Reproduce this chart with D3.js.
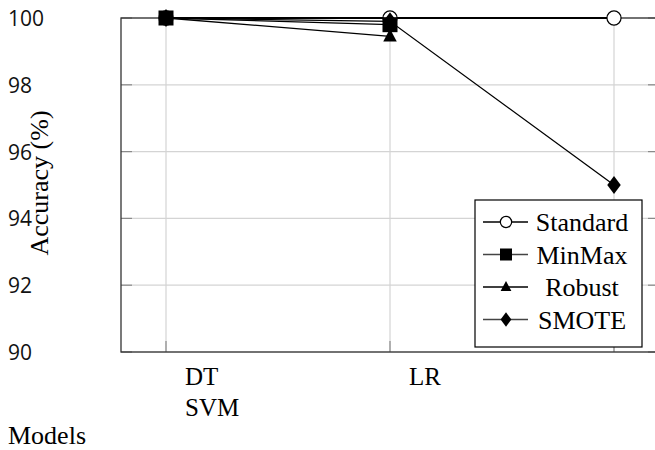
<!DOCTYPE html>
<html>
<head>
<meta charset="utf-8">
<script src="https://cdn.jsdelivr.net/npm/d3@7"></script>
<style>
  html, body { margin: 0; padding: 0; background: #fff; }
  svg { display: block; }
</style>
</head>
<body>
<svg id="chart"></svg>
<script>
// Data
const models = ['DT', 'LR', 'SVM'];
const xTickLines = [['DT', 'SVM'], ['LR'], []];
const yTicks = [90, 92, 94, 96, 98, 100];

const standardAcc = [100, 100, 100];
const minmaxAcc = [100, 99.8, null];
const robustAcc = [100, 99.45, null];
const smoteAcc = [100, 99.9, 95];

const seriesNames = ['Standard', 'MinMax', 'Robust', 'SMOTE'];
const seriesValues = [standardAcc, minmaxAcc, robustAcc, smoteAcc];
const seriesMarkers = ['circle', 'square', 'triangle', 'diamond'];

const SERIF = 'Times New Roman';
const SANS = 'Open Sans';

const W = 655, H = 450;
const margin = { top: 18, right: -4, bottom: 98, left: 121 };
const width = W - margin.left - margin.right;
const height = H - margin.top - margin.bottom;

const svg = d3.select('#chart')
  .attr('width', W)
  .attr('height', H);

const g = svg.append('g')
  .attr('transform', `translate(${margin.left},${margin.top})`);

// Scales
const x = d3.scalePoint()
  .domain(models)
  .range([45, 493]);

const y = d3.scaleLinear()
  .domain([90, 100])
  .range([height, 0]);

// Grid
g.append('g')
  .selectAll('line')
  .data(yTicks)
  .join('line')
  .attr('x1', 0).attr('x2', width)
  .attr('y1', d => y(d)).attr('y2', d => y(d))
  .attr('stroke', '#d4d4d4')
  .attr('stroke-width', 1.2);

g.append('g')
  .selectAll('line')
  .data(models)
  .join('line')
  .attr('x1', d => x(d)).attr('x2', d => x(d))
  .attr('y1', 0).attr('y2', height)
  .attr('stroke', '#d4d4d4')
  .attr('stroke-width', 1.2);

// Inner tick marks
g.append('g')
  .selectAll('line')
  .data(yTicks)
  .join('line')
  .attr('x1', 0).attr('x2', 11)
  .attr('y1', d => y(d)).attr('y2', d => y(d))
  .attr('stroke', '#8a8a8a')
  .attr('stroke-width', 1.2);

g.append('g')
  .selectAll('line')
  .data(yTicks)
  .join('line')
  .attr('x1', width - 11).attr('x2', width)
  .attr('y1', d => y(d)).attr('y2', d => y(d))
  .attr('stroke', '#8a8a8a')
  .attr('stroke-width', 1.2);

g.append('g')
  .selectAll('line')
  .data(models)
  .join('line')
  .attr('x1', d => x(d)).attr('x2', d => x(d))
  .attr('y1', height).attr('y2', height - 11)
  .attr('stroke', '#8a8a8a')
  .attr('stroke-width', 1.2);

// Frame
g.append('rect')
  .attr('x', 0).attr('y', 0)
  .attr('width', width).attr('height', height)
  .attr('fill', 'none')
  .attr('stroke', '#333')
  .attr('stroke-width', 1.3);

// Y tick labels
svg.append('g')
  .selectAll('text')
  .data(yTicks)
  .join('text')
  .attr('x', 8)
  .attr('y', d => margin.top + y(d) + 8)
  .attr('font-family', SANS)
  .attr('font-size', 21)
  .attr('fill', '#111')
  .text(d => d);

// X tick labels
models.forEach((m, i) => {
  xTickLines[i].forEach((t, j) => {
    svg.append('text')
      .attr('x', margin.left + x(m) + 19)
      .attr('y', margin.top + height + 33 + j * 31)
      .attr('font-family', SERIF)
      .attr('font-size', 25)
      .attr('fill', '#000')
      .text(t);
  });
});

// Axis titles
svg.append('text')
  .attr('transform', `translate(48,${margin.top + height / 2 - 2}) rotate(-90)`)
  .attr('text-anchor', 'middle')
  .attr('font-family', SERIF)
  .attr('font-size', 26)
  .attr('fill', '#000')
  .text('Accuracy (%)');

svg.append('text')
  .attr('x', 8)
  .attr('y', 444)
  .attr('font-family', SERIF)
  .attr('font-size', 26)
  .attr('fill', '#000')
  .text('Models');

// Markers
function drawMarker(sel, type, cx, cy, s) {
  if (type === 'circle') {
    sel.append('circle').attr('cx', cx).attr('cy', cy).attr('r', s * 0.47)
      .attr('fill', '#fff').attr('stroke', '#000').attr('stroke-width', 1.2);
  } else if (type === 'square') {
    sel.append('rect').attr('x', cx - s / 2).attr('y', cy - s / 2)
      .attr('width', s).attr('height', s).attr('fill', '#000');
  } else if (type === 'triangle') {
    const h = s * 0.85;
    sel.append('path')
      .attr('d', `M${cx},${cy - h * 0.6}L${cx + s * 0.45},${cy + h * 0.4}L${cx - s * 0.45},${cy + h * 0.4}Z`)
      .attr('fill', '#000');
  } else {
    sel.append('path')
      .attr('d', `M${cx},${cy - s * 0.6}L${cx + s * 0.45},${cy}L${cx},${cy + s * 0.6}L${cx - s * 0.45},${cy}Z`)
      .attr('fill', '#000');
  }
}

const line = d3.line()
  .defined(d => d.v !== null)
  .x(d => x(d.m))
  .y(d => y(d.v));

seriesNames.forEach((name, k) => {
  const pts = models.map((m, i) => ({ m, v: seriesValues[k][i] }));
  g.append('path')
    .datum(pts)
    .attr('fill', 'none')
    .attr('stroke', '#000')
    .attr('stroke-width', k === 0 ? 2 : 1.3)
    .attr('d', line);
});

// Circles first, squares last, as in the reference
const markerOrder = [0, 2, 3, 1];
markerOrder.forEach(k => {
  const mg = g.append('g');
  models.forEach((m, i) => {
    const v = seriesValues[k][i];
    if (v === null) return;
    drawMarker(mg, seriesMarkers[k], x(m), y(v), 15);
  });
});

// Legend
const legend = svg.append('g').attr('transform', 'translate(475,200)');
legend.append('rect')
  .attr('width', 167).attr('height', 147)
  .attr('fill', '#fff')
  .attr('stroke', '#000')
  .attr('stroke-width', 1.2);

seriesNames.forEach((name, k) => {
  const cy = 22 + k * 32.5;
  legend.append('line')
    .attr('x1', 8).attr('x2', 53)
    .attr('y1', cy).attr('y2', cy)
    .attr('stroke', k % 2 ? '#444' : '#000')
    .attr('stroke-width', 1.3);
  drawMarker(legend, seriesMarkers[k], 31, cy, 12);
  legend.append('text')
    .attr('x', 107)
    .attr('y', cy + 9)
    .attr('text-anchor', 'middle')
    .attr('font-family', SERIF)
    .attr('font-size', 26)
    .attr('fill', '#000')
    .text(name);
});
</script>
</body>
</html>
